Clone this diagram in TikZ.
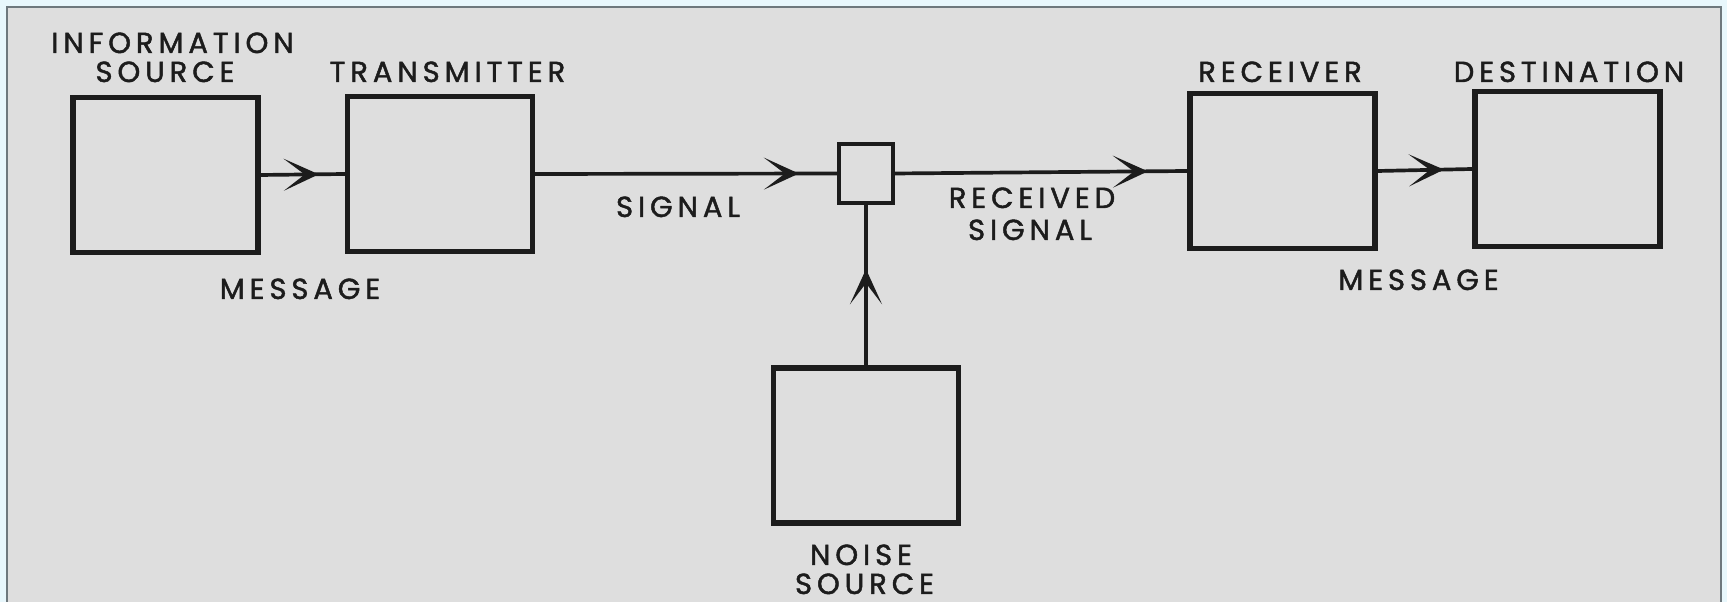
\documentclass[tikz,border=0pt]{standalone}
\usepackage{fontspec}
\setsansfont{Poppins}[LetterSpace=17,FakeBold=1.6]
\usetikzlibrary{arrows.meta,decorations.markings}
\definecolor{outerblue}{RGB}{232,247,252}
\definecolor{sheetgray}{RGB}{222,222,222}
\definecolor{rimgray}{RGB}{110,120,125}
\definecolor{ink}{RGB}{28,28,28}
\tikzset{
  sheet/.style={fill=sheetgray, draw=rimgray, line width=1.1pt},
  boxed/.style={draw=ink, line width=3pt, minimum width=3.70cm, minimum height=3.10cm, inner sep=0pt},
  mixbox/.style={draw=ink, line width=2.4pt, minimum width=1.08cm, minimum height=1.18cm, inner sep=0pt},
  flow/.style={draw=ink, line width=2.1pt},
  flowtip/.style={postaction={decorate}, decoration={markings,
      mark=at position #1 with {\arrow{Stealth[length=7mm,width=6.4mm,inset=4.2mm]}}}},
  tag/.style={font=\sffamily\fontsize{16.5}{16.5}\selectfont, text=ink, anchor=base, inner sep=0pt},
}

\begin{document}
\begin{tikzpicture}
\useasboundingbox (0,0) rectangle (34.54,12.04);
\fill[outerblue] (0,0) rectangle (34.54,12.04);
\filldraw[sheet] (0.14,-0.30) rectangle (34.42,11.90);
\node[boxed] (info) at (3.310,8.540) {};
\node[boxed] (trans) at (8.800,8.560) {};
\node[mixbox] (mix) at (17.320,8.570) {};
\node[boxed] (recv) at (25.650,8.620) {};
\node[boxed] (dest) at (31.350,8.660) {};
\node[boxed] (noise) at (17.320,3.130) {};
\node[tag] (infotop) at (3.450,10.980) {INFORMATION};
\node[tag] (infobot) at (3.300,10.400) {SOURCE};
\node[tag] (translbl) at (8.950,10.400) {TRANSMITTER};
\node[tag] (recvlbl) at (25.600,10.400) {RECEIVER};
\node[tag] (destlbl) at (31.380,10.400) {DESTINATION};
\node[tag] (msgleft) at (6.000,6.060) {MESSAGE};
\node[tag] (siglbl) at (13.560,7.700) {SIGNAL};
\node[tag] (rsigtop) at (20.640,7.880) {RECEIVED};
\node[tag] (rsigbot) at (20.600,7.240) {SIGNAL};
\node[tag] (msgright) at (28.370,6.240) {MESSAGE};
\node[tag] (noisetop) at (17.220,0.740) {NOISE};
\node[tag] (noisebot) at (17.290,0.160) {SOURCE};
\draw[flow, flowtip=0.69] (info.east) -- (trans.west);
\draw[flow, flowtip=0.874] (trans.east) -- (mix.west);
\draw[flow, flowtip=0.865] (mix.east) -- (recv.west);
\draw[flow, flowtip=0.70] (recv.east) -- (dest.west);
\draw[flow, flowtip=0.60] (noise.north) -- (mix.south);
\end{tikzpicture}
\end{document}
